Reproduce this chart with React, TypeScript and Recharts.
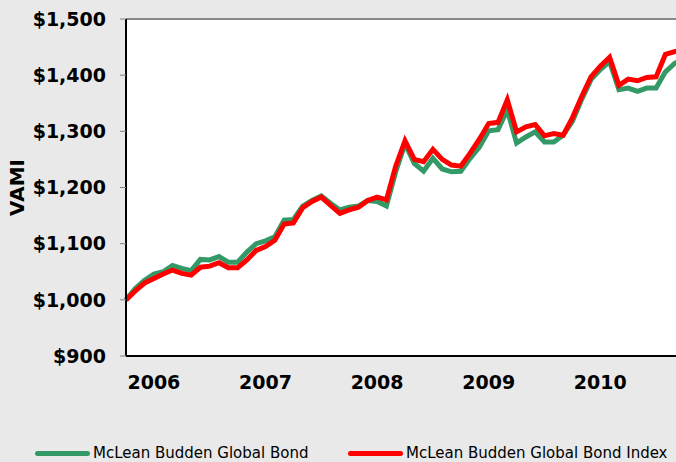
import React from 'react';
import { LineChart, Line, XAxis, YAxis, CartesianGrid, ReferenceLine } from 'recharts';

const MONTHS = [
  'Oct-05', 'Nov-05', 'Dec-05',
  'Jan-06', 'Feb-06', 'Mar-06', 'Apr-06', 'May-06', 'Jun-06', 'Jul-06', 'Aug-06', 'Sep-06', 'Oct-06', 'Nov-06', 'Dec-06',
  'Jan-07', 'Feb-07', 'Mar-07', 'Apr-07', 'May-07', 'Jun-07', 'Jul-07', 'Aug-07', 'Sep-07', 'Oct-07', 'Nov-07', 'Dec-07',
  'Jan-08', 'Feb-08', 'Mar-08', 'Apr-08', 'May-08', 'Jun-08', 'Jul-08', 'Aug-08', 'Sep-08', 'Oct-08', 'Nov-08', 'Dec-08',
  'Jan-09', 'Feb-09', 'Mar-09', 'Apr-09', 'May-09', 'Jun-09', 'Jul-09', 'Aug-09', 'Sep-09', 'Oct-09', 'Nov-09', 'Dec-09',
  'Jan-10', 'Feb-10', 'Mar-10', 'Apr-10', 'May-10', 'Jun-10', 'Jul-10', 'Aug-10', 'Sep-10', 'Oct-10',
];

const FUND = [
  1000, 1020, 1035, 1046, 1050, 1061, 1056, 1052, 1072, 1071, 1077, 1067, 1067, 1085, 1100, 1105,
  1112, 1142, 1143, 1167, 1177, 1185, 1172, 1160, 1165, 1167, 1177, 1175, 1167, 1228, 1278,
  1243, 1229, 1252, 1233, 1228, 1229, 1252, 1272, 1301, 1303, 1338, 1279, 1290, 1299, 1281,
  1281, 1293, 1318, 1357, 1392, 1410, 1424, 1374, 1377, 1371, 1377, 1377, 1406, 1421, 1428,
];

const INDEX = [
  1000, 1016, 1030, 1038, 1046, 1053, 1047, 1044, 1058, 1060, 1066, 1057, 1057, 1071, 1088, 1095,
  1106, 1135, 1137, 1164, 1175, 1183, 1168, 1154, 1160, 1165, 1177, 1183, 1178, 1238, 1283,
  1250, 1246, 1268, 1250, 1240, 1238, 1261, 1286, 1314, 1316, 1356, 1299, 1308, 1312, 1292,
  1296, 1293, 1324, 1362, 1397, 1416, 1432, 1382, 1393, 1390, 1396, 1397, 1437, 1442, 1446,
];

const YEAR_TICKS = ['Jan-06', 'Jan-07', 'Jan-08', 'Jan-09', 'Jan-10'];
const Y_TICKS = [900, 1000, 1100, 1200, 1300, 1400, 1500];

const SERIES = [
  { key: 'fund', name: 'McLean Budden Global Bond', color: '#339966' },
  { key: 'index', name: 'McLean Budden Global Bond Index', color: '#ff0000' },
];

const data = MONTHS.map((m, i) => ({ month: m, fund: FUND[i], index: INDEX[i] }));

const fmtMoney = (v: number) => '$' + v.toLocaleString('en-US');
const fmtYear = (v: string) => '20' + v.slice(4);

const tickFont = { fontFamily: 'DejaVu Sans', fontWeight: 'bold', fontSize: 19, fill: '#000' };

export default function App() {
  return (
    <div
      style={{
        position: 'fixed',
        left: 0,
        top: 0,
        width: 676,
        height: 462,
        overflow: 'hidden',
        background: '#e9e9e9',
      }}
    >
      <LineChart
        width={720}
        height={462}
        data={data}
        margin={{ top: 19, right: 36, left: 0, bottom: 66 }}
      >
        <CartesianGrid stroke="none" fill="#ffffff" horizontal={false} vertical={false} />
        <XAxis
          dataKey="month"
          type="category"
          ticks={YEAR_TICKS}
          interval={0}
          tickFormatter={fmtYear}
          tickLine={false}
          tickSize={0}
          tickMargin={20}
          height={40}
          axisLine={{ stroke: '#000', strokeWidth: 2 }}
          tick={tickFont}
        />
        <YAxis
          domain={[900, 1500]}
          ticks={Y_TICKS}
          interval={0}
          width={126}
          tickFormatter={fmtMoney}
          tickSize={6}
          tickMargin={14}
          tickLine={{ stroke: '#808080', strokeWidth: 1 }}
          axisLine={{ stroke: '#000', strokeWidth: 2 }}
          tick={tickFont}
          label={{
            value: 'VAMI',
            angle: -90,
            position: 'center',
            dx: -46,
            style: { fontFamily: 'DejaVu Sans', fontWeight: 'bold', fontSize: 20, fill: '#000' },
          }}
        />
        <ReferenceLine y={1500} stroke="#8a8a8a" strokeWidth={2} />
        {SERIES.map((s) => (
          <Line
            key={s.key}
            dataKey={s.key}
            name={s.name}
            stroke={s.color}
            strokeWidth={5}
            dot={false}
            activeDot={false}
            type="linear"
            isAnimationActive={false}
          />
        ))}
      </LineChart>
      {SERIES.map((s, i) => (
        <div
          key={s.key}
          style={{
            position: 'absolute',
            top: 443,
            left: i === 0 ? 35 : 348,
            height: 20,
            display: 'flex',
            alignItems: 'center',
            fontFamily: 'DejaVu Sans',
            fontSize: 15,
            color: '#000',
            whiteSpace: 'nowrap',
          }}
        >
          <span
            style={{
              display: 'inline-block',
              width: 55,
              height: 5,
              borderRadius: 3,
              background: s.color,
              marginRight: 3,
            }}
          />
          <span>{s.name}</span>
        </div>
      ))}
    </div>
  );
}
